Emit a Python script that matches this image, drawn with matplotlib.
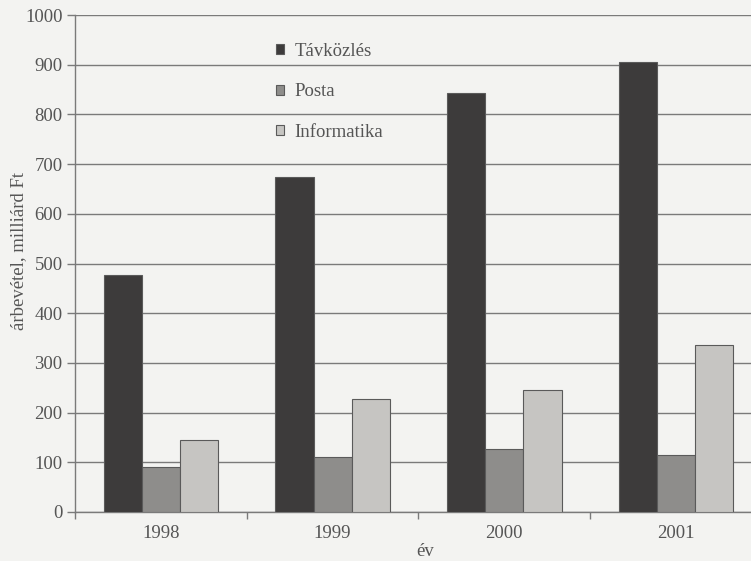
import matplotlib.pyplot as plt
import numpy as np

years = ['1998', '1999', '2000', '2001']
tavkozles = [477, 674, 843, 905]
posta = [90, 111, 127, 115]
informatika = [145, 227, 245, 336]

series = [('Távközlés', tavkozles, '#3d3b3b'),
          ('Posta', posta, '#8e8d8b'),
          ('Informatika', informatika, '#c6c5c2')]

plt.rcParams['font.family'] = ['Liberation Serif', 'DejaVu Serif']
bg = '#f3f3f1'
ink = '#555555'
fs = 13.5

fig = plt.figure(figsize=(7.51, 5.61), dpi=100, facecolor=bg)
ax = fig.add_axes([75 / 751, 1 - 512 / 561, 687 / 751, 497 / 561], facecolor=bg)

x = np.arange(len(years))
w = 0.222
for i, (name, vals, col) in enumerate(series):
    ax.bar(x + (i - 1) * w, vals, width=w, color=col, edgecolor='#5a5a5a',
           linewidth=0.8, label=name, zorder=3)

ax.set_xlim(-0.5, len(years) - 0.5)
ax.set_ylim(0, 1000)
ax.set_yticks(range(0, 1001, 100))
ax.yaxis.grid(True, color='#7a7a7a', linewidth=1.0, zorder=0)
ax.set_axisbelow(True)

ax.set_xticks(x)
ax.set_xticklabels(years)
ax.set_xticks(np.arange(-0.5, len(years), 1.0), minor=True)
ax.tick_params(axis='x', which='major', length=0, pad=9, labelsize=fs, colors=ink)
ax.tick_params(axis='x', which='minor', length=5, width=1, color='#7a7a7a')
ax.tick_params(axis='y', length=6, width=1, color='#7a7a7a', labelsize=fs,
               labelcolor=ink, pad=3)

for s in ['top', 'right']:
    ax.spines[s].set_visible(False)
for s in ['left', 'bottom']:
    ax.spines[s].set_color('#7a7a7a')
    ax.spines[s].set_linewidth(1.0)

ax.set_ylabel('árbevétel, milliárd Ft', fontsize=fs, color=ink)
ax.yaxis.set_label_coords(-0.07, 0.525)
fig.text(425 / 751, 1 - 551 / 561, 'év', fontsize=fs, color=ink,
         ha='center', va='center')

leg = ax.legend(loc='upper left', bbox_to_anchor=(0.268, 0.978), frameon=False,
                fontsize=fs, handlelength=0.45, handleheight=0.45,
                handletextpad=0.55, labelspacing=1.25, labelcolor=ink)

fig.savefig('out.png', dpi=100, facecolor=bg)
